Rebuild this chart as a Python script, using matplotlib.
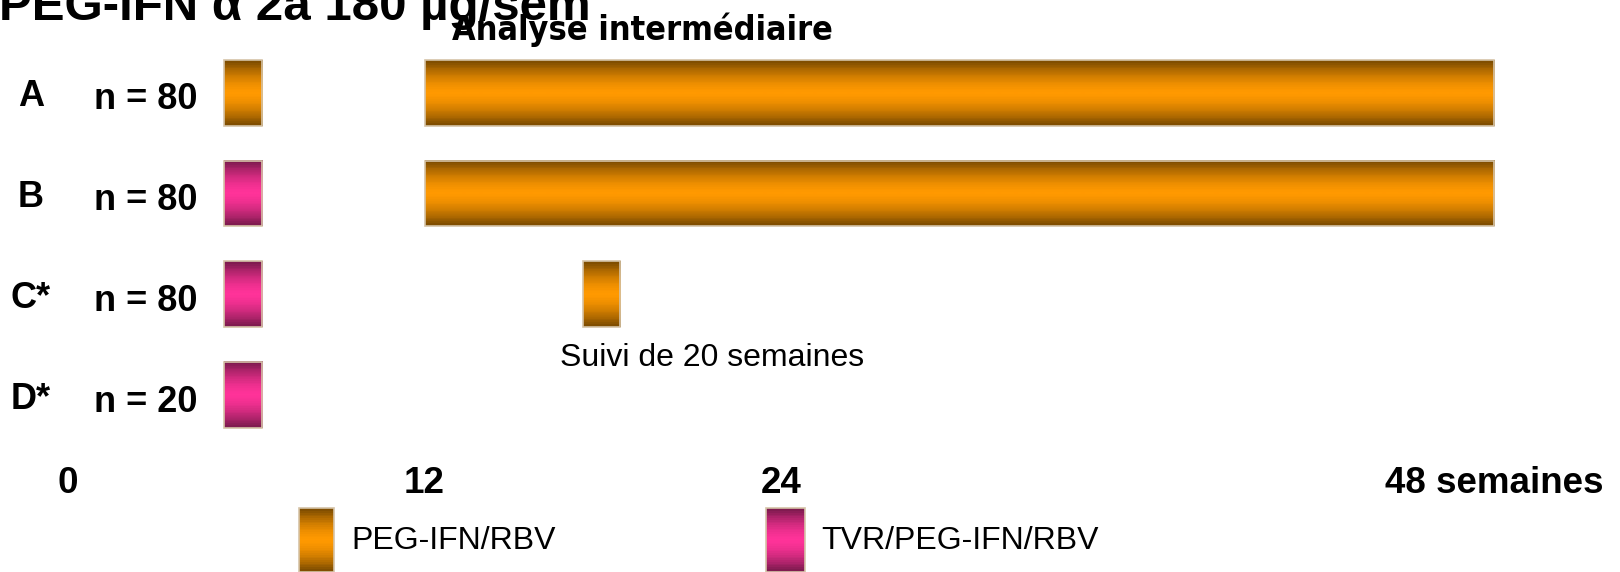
import numpy as np
import matplotlib
matplotlib.use("Agg")
import matplotlib.pyplot as plt
from matplotlib.patches import Rectangle

# Study arms (rows, top to bottom)
ARMS = ["A", "B", "C*", "D*"]
ARM_N = ["n = 80", "n = 80", "n = 80", "n = 20"]

# Treatment segments in weeks: (arm index, start, end, regimen)
SEGMENTS = [
    (0, 5.25, 6.53, "PEG-IFN/RBV"),
    (0, 12.0, 48.0, "PEG-IFN/RBV"),
    (1, 5.25, 6.53, "TVR/PEG-IFN/RBV"),
    (1, 12.0, 48.0, "PEG-IFN/RBV"),
    (2, 5.25, 6.53, "TVR/PEG-IFN/RBV"),
    (2, 17.33, 18.58, "PEG-IFN/RBV"),
    (3, 5.25, 6.53, "TVR/PEG-IFN/RBV"),
]
WEEK_TICKS = [0, 12, 24, 48]
WEEK_LABELS = ["0", "12", "24", "48 semaines"]
REGIMENS = ["PEG-IFN/RBV", "TVR/PEG-IFN/RBV"]

TITLE = "PEG-IFN \u03b1 2a 180 \u00b5g/sem"
INTERIM = "Analyse interm\u00e9diaire"
FOLLOWUP = "Suivi de 20 semaines"

# center / edge colours of the shaded bars
SHADES = {
    "PEG-IFN/RBV": ((1.0, 0.60, 0.0), (0.46, 0.28, 0.0)),
    "TVR/PEG-IFN/RBV": ((1.0, 0.20, 0.60), (0.46, 0.10, 0.29)),
}


def gradient(regimen, n=64, steps=18):
    center, edge = map(np.array, SHADES[regimen])
    t = np.abs(np.linspace(-1, 1, n))
    t = np.round(t * steps) / steps
    w = t ** 1.6
    col = center[None, :] * (1 - w[:, None]) + edge[None, :] * w[:, None]
    return col[:, None, :]


def shaded_bar(ax, x0, x1, y0, y1, regimen):
    ax.imshow(gradient(regimen), extent=(x0, x1, y1, y0), aspect="auto",
              interpolation="bilinear", zorder=2)
    ax.add_patch(Rectangle((x0, y0), x1 - x0, y1 - y0, fill=False,
                           ec="#d6c4a8", lw=1.2, zorder=3))


W, H = 1620, 572
fig = plt.figure(figsize=(W / 100, H / 100), dpi=100)

# main axes in weeks / arm rows
ax = fig.add_axes([0, 0, 1, 1])
px_per_week = (1494 - 68) / 48
row_px = 100.8
row0 = 92.7
bar_h = 66 / row_px

for arm, start, end, regimen in SEGMENTS:
    shaded_bar(ax, start, end, arm - bar_h / 2, arm + bar_h / 2, regimen)

for i, (arm, n) in enumerate(zip(ARMS, ARM_N)):
    ax.text(-1.25, i + 0.04, arm, ha="center", va="center", fontsize=26,
            fontweight="bold", family="Liberation Sans")
    ax.text(2.62, i + 0.07, n, ha="center", va="center", fontsize=26,
            fontweight="bold", family="Liberation Sans")

tick_row = (484 - row0) / row_px
for wk, lab in zip(WEEK_TICKS, WEEK_LABELS):
    ax.text(wk, tick_row, lab, ha="center", va="center", fontsize=26.5,
            fontweight="bold", family="Liberation Sans")

ax.text((712 - 68) / px_per_week, (358 - row0) / row_px, FOLLOWUP,
        ha="center", va="center", fontsize=23, family="Liberation Sans")

ax.set_xlim(-68 / px_per_week, (W - 68) / px_per_week)
ax.set_ylim((H - row0) / row_px, -row0 / row_px)
ax.axis("off")

# overlay in pixels for title and legend
ov = fig.add_axes([0, 0, 1, 1], facecolor="none")
ov.set_xlim(0, W)
ov.set_ylim(H, 0)
ov.axis("off")

ov.text(-1, 20, TITLE, ha="left", va="baseline", fontsize=35.5,
        fontweight="bold", family="Liberation Sans")
ov.text(642, 40, INTERIM, ha="center", va="baseline", fontsize=24.5,
        fontweight="bold", family="DejaVu Sans", fontstretch="condensed")

for (sx0, sx1, tx), regimen in zip([(299, 334, 351), (766, 805, 821)], REGIMENS):
    shaded_bar(ov, sx0, sx1, 508, 572, regimen)
    ov.text(tx, 541, regimen, ha="left", va="center", fontsize=23,
            family="Liberation Sans")
ov.set_xlim(0, W)
ov.set_ylim(H, 0)

fig.savefig("out.png", dpi=100, facecolor="white")
